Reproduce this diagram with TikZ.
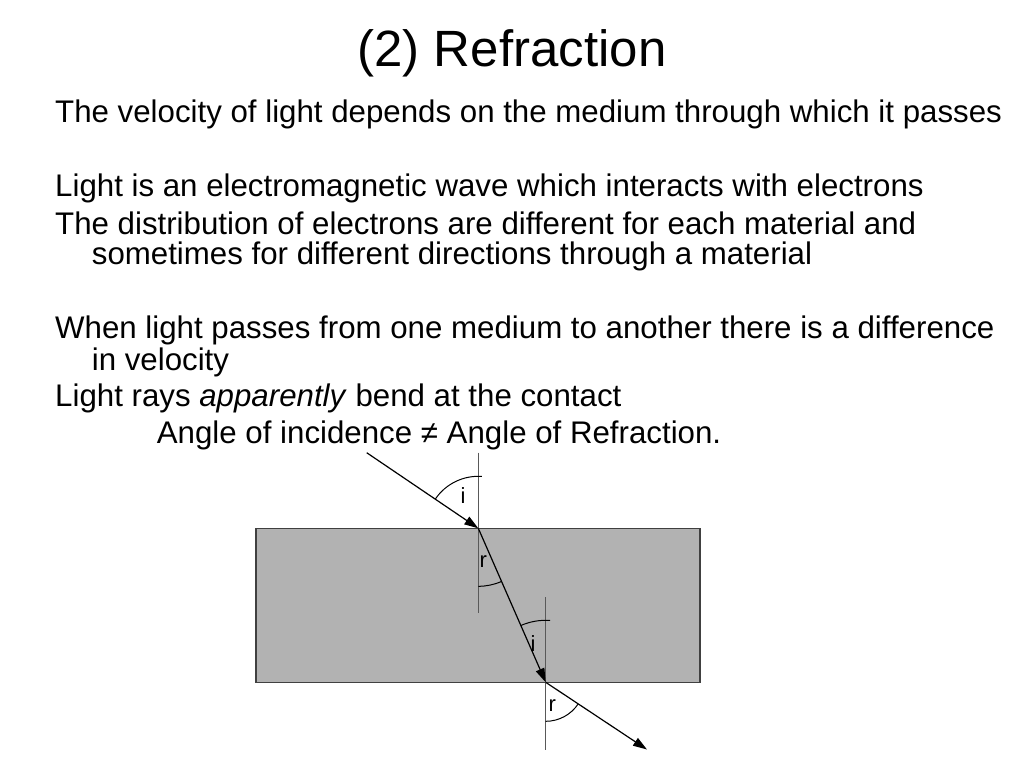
\documentclass[tikz,border=0pt]{standalone}
\usepackage{fontspec}
\setmainfont{Liberation Sans}
\usetikzlibrary{arrows.meta}
\begin{document}
\begin{tikzpicture}[x=1pt,y=-1pt,
  txt/.style={anchor=base west,inner sep=0pt,font=\fontsize{31.25}{31}\selectfont},
  ttl/.style={anchor=base,inner sep=0pt,font=\fontsize{51}{51}\selectfont},
  lbl/.style={anchor=base west,inner sep=0pt,font=\fontsize{22}{22}\selectfont},
  ray/.style={black,line width=1.2pt},
  rayarrow/.style={ray,-{Triangle[length=14pt,width=9pt]}},
  normal/.style={black!65,line width=1.2pt},
  anglearc/.style={black,line width=1pt}]
\useasboundingbox (0,0) rectangle (1024,768);
\fill[white] (0,0) rectangle (1024,768);
% text
\node[ttl] (title) at (512,66.7) {(2) Refraction};
\node[txt] (l1) at (55,122.3) {The velocity of light depends on the medium through which it passes};
\node[txt] (l2) at (55,196.7) {Light is an electromagnetic wave which interacts with electrons};
\node[txt] (l3) at (55,234) {The distribution of electrons are different for each material and};
\node[txt] (l3b) at (91.7,264) {sometimes for different directions through a material};
\node[txt] (l4) at (55,338.3) {When light passes from one medium to another there is a difference};
\node[txt] (l4b) at (91.7,370) {in velocity};
\node[txt] (l5) at (55,406.7) {Light rays \textit{apparently} bend at the contact};
\node[txt] (l6) at (156.7,443) {Angle of incidence ≠ Angle of Refraction.};
% block
\draw[fill=black!30,draw=black!75,line width=1.2pt] (256,528.3) rectangle (700,682.3);
% coordinates
\coordinate (A) at (366.7,452.7);
\coordinate (P) at (478.3,528.3);
\coordinate (Q) at (545.7,682.3);
\coordinate (E) at (647,749.5);
\coordinate (N1t) at (478.3,452.7);
\coordinate (N1b) at (478.3,613.3);
\coordinate (N2t) at (545.7,597);
\coordinate (N2b) at (545.7,750);
% normals
\draw[normal] (N1t) -- (N1b);
\draw[normal] (N2t) -- (N2b);
% rays
\draw[rayarrow] (A) -- (P);
\draw[rayarrow] (P) -- (Q);
\draw[rayarrow] (Q) -- (E);
% arcs
\draw[anglearc] (P) ++(145.6:52pt) arc[start angle=145.6,end angle=86,radius=52pt];
\draw[anglearc] (P) ++(-90:58pt) arc[start angle=-90,end angle=-66.5,radius=58pt];
\draw[anglearc] (Q) ++(113.5:62pt) arc[start angle=113.5,end angle=86,radius=62pt];
\draw[anglearc] (Q) ++(-90:39pt) arc[start angle=-90,end angle=-33.6,radius=39pt];
% labels
\node[lbl] (li1) at (460.5,503.3) {i};
\node[lbl] (lr1) at (479.5,567.7) {r};
\node[lbl] (li2) at (530.5,651.7) {i};
\node[lbl] (lr2) at (548.5,711.7) {r};
\end{tikzpicture}
\end{document}
